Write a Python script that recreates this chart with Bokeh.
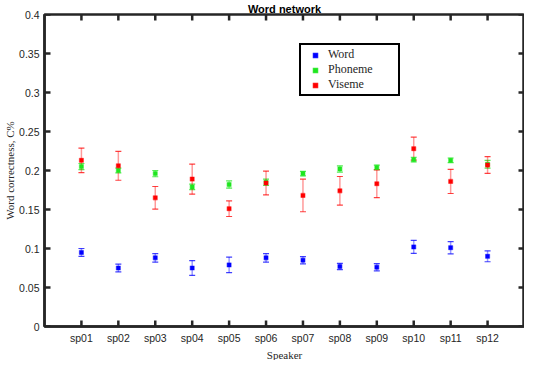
from bokeh.plotting import figure
from bokeh.models import (ColumnDataSource, Whisker, TeeHead, FixedTicker,
                          Legend, LegendItem, Range1d, Title)
from bokeh.embed import file_html
from bokeh.resources import INLINE

speakers = ["sp01", "sp02", "sp03", "sp04", "sp05", "sp06",
            "sp07", "sp08", "sp09", "sp10", "sp11", "sp12"]
word_mean = [0.095, 0.075, 0.088, 0.075, 0.079, 0.088, 0.085, 0.077, 0.076, 0.102, 0.101, 0.090]
word_err = [0.005, 0.005, 0.0055, 0.0095, 0.010, 0.0055, 0.0046, 0.004, 0.0046, 0.0083, 0.0078, 0.007]
phon_mean = [0.205, 0.200, 0.196, 0.179, 0.182, 0.185, 0.196, 0.202, 0.204, 0.214, 0.213, 0.208]
phon_err = [0.004, 0.003, 0.004, 0.0036, 0.0046, 0.004, 0.003, 0.004, 0.003, 0.003, 0.003, 0.005]
vis_mean = [0.213, 0.206, 0.165, 0.189, 0.151, 0.184, 0.168, 0.174, 0.183, 0.228, 0.186, 0.207]
vis_err = [0.0157, 0.0185, 0.0145, 0.0193, 0.010, 0.0153, 0.0209, 0.0183, 0.0177, 0.0147, 0.0155, 0.0107]
y_ticks = [0, 0.05, 0.1, 0.15, 0.2, 0.25, 0.3, 0.35, 0.4]
y_tick_labels = ["0", "0.05", "0.1", "0.15", "0.2", "0.25", "0.3", "0.35", "0.4"]
series_names = ["Word", "Phoneme", "Viseme"]
series_colors = ["#0000ff", "#1ee61e", "#ff0000"]
title_text = "Word network"
x_label = "Speaker"
y_label = "Word correctness, C%"

AX = "#262626"
SANS = "Liberation Sans"
SERIF = "Liberation Serif"

x_lo, x_hi = 0, len(speakers) + 1
y_lo, y_hi = y_ticks[0], y_ticks[-1]

p = figure(width=524, height=360, output_backend="svg", toolbar_location=None,
           x_range=Range1d(x_lo, x_hi), y_range=Range1d(y_lo, y_hi),
           min_border_top=0, min_border_right=0, min_border_left=0, min_border_bottom=0)
p.grid.visible = False
p.outline_line_color = AX
p.outline_line_width = 2.5
p.outline_line_alpha = 1
p.background_fill_color = "white"
p.border_fill_color = "white"

xs = list(range(1, len(speakers) + 1))


def style_axis(ax):
    ax.axis_line_color = AX
    ax.axis_line_width = 2.5
    ax.major_tick_in = 0
    ax.major_tick_out = 0
    ax.minor_tick_line_color = None
    ax.major_tick_line_color = None
    ax.major_label_text_font = SANS
    ax.major_label_text_font_size = "10.5px"
    ax.major_label_text_color = AX


style_axis(p.xaxis[0])
style_axis(p.yaxis[0])

p.xaxis[0].ticker = FixedTicker(ticks=xs)
p.xaxis[0].major_label_overrides = {x: s for x, s in zip(xs, speakers)}
p.xaxis[0].major_label_standoff = 5

p.yaxis[0].ticker = FixedTicker(ticks=y_ticks)
p.yaxis[0].major_label_overrides = {t: s for t, s in zip(y_ticks, y_tick_labels)}
p.yaxis[0].major_label_standoff = 5

p.add_layout(Title(text=x_label, align="center", text_font=SERIF, text_font_size="11px",
                   text_font_style="normal", text_color=AX, standoff=0, offset=0), "below")
p.add_layout(Title(text=y_label, align="center", text_font=SERIF, text_font_size="11px",
                   text_font_style="normal", text_color=AX, standoff=2, offset=0), "left")
p.add_layout(Title(text=title_text, align="center", text_font=SANS, text_font_size="11px",
                   text_font_style="bold", text_color="black", standoff=0, offset=0), "above")

# inward tick marks on all four sides (length as a fraction of each axis span)
tx = 0.0125 * (x_hi - x_lo)
ty = 0.0195 * (y_hi - y_lo)
tick_style = dict(line_color=AX, line_width=2.5, upper_head=None, lower_head=None)
ny, nx = len(y_ticks), len(xs)
p.add_layout(Whisker(base="b", lower="lo", upper="hi", dimension="width", source=ColumnDataSource(
    dict(b=y_ticks, lo=[x_lo] * ny, hi=[x_lo + tx] * ny)), **tick_style))
p.add_layout(Whisker(base="b", lower="lo", upper="hi", dimension="width", source=ColumnDataSource(
    dict(b=y_ticks, lo=[x_hi - tx] * ny, hi=[x_hi] * ny)), **tick_style))
p.add_layout(Whisker(base="b", lower="lo", upper="hi", dimension="height", source=ColumnDataSource(
    dict(b=xs, lo=[y_lo] * nx, hi=[y_lo + ty] * nx)), **tick_style))
p.add_layout(Whisker(base="b", lower="lo", upper="hi", dimension="height", source=ColumnDataSource(
    dict(b=xs, lo=[y_hi - ty] * nx, hi=[y_hi] * nx)), **tick_style))

items = []
for name, mean, err, col in zip(series_names, [word_mean, phon_mean, vis_mean],
                                [word_err, phon_err, vis_err], series_colors):
    src = ColumnDataSource(dict(x=xs, y=mean,
                                upper=[m + e for m, e in zip(mean, err)],
                                lower=[m - e for m, e in zip(mean, err)]))
    w = Whisker(base="x", upper="upper", lower="lower", source=src,
                line_color=col, line_alpha=0.4, line_width=1.5,
                upper_head=TeeHead(size=6, line_color=col, line_alpha=0.75, line_width=1.2),
                lower_head=TeeHead(size=6, line_color=col, line_alpha=0.75, line_width=1.2))
    p.add_layout(w)
    r = p.scatter("x", "y", source=src, marker="square", size=4,
                  fill_color=col, line_color=col, line_alpha=0.45, line_width=1.2)
    items.append(LegendItem(label=name, renderers=[r]))

legend = Legend(items=items, location=(255, 230),
                border_line_color="black", border_line_width=2.5, border_line_alpha=1,
                label_text_font=SERIF, label_text_font_size="12px", label_text_color=AX,
                glyph_width=24, glyph_height=12, label_height=12, label_width=68, spacing=0,
                padding=2, margin=0, label_standoff=1, background_fill_alpha=1)
p.add_layout(legend, "center")

open("out.html", "w").write(file_html(p, INLINE))
